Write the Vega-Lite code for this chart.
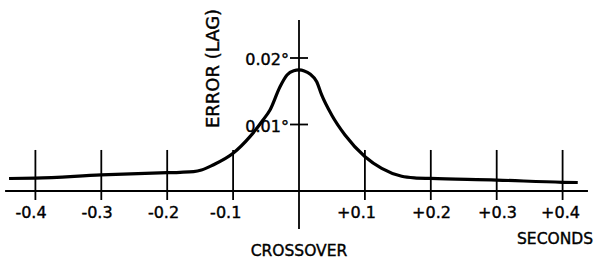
{
  "$schema": "https://vega.github.io/schema/vega-lite/v6.json",
  "width": 595,
  "height": 259,
  "padding": 0,
  "autosize": {"type": "none"},
  "background": "white",
  "config": {"view": {"stroke": null}},
  "datasets": {
    "curve": [
      {"t": -0.44, "err": 0.00188},
      {"t": -0.4, "err": 0.00195},
      {"t": -0.3, "err": 0.00241},
      {"t": -0.2, "err": 0.00275},
      {"t": -0.1806, "err": 0.00281},
      {"t": -0.16, "err": 0.00292},
      {"t": -0.148, "err": 0.00316},
      {"t": -0.1305, "err": 0.00391},
      {"t": -0.1, "err": 0.00567},
      {"t": -0.0744, "err": 0.00817},
      {"t": -0.0546, "err": 0.01068},
      {"t": -0.044, "err": 0.01218},
      {"t": -0.0288, "err": 0.01568},
      {"t": -0.0182, "err": 0.01744},
      {"t": -0.008, "err": 0.01808},
      {"t": 0.0, "err": 0.0182},
      {"t": 0.008, "err": 0.01806},
      {"t": 0.0167, "err": 0.0176},
      {"t": 0.0269, "err": 0.01644},
      {"t": 0.0344, "err": 0.01444},
      {"t": 0.0496, "err": 0.01143},
      {"t": 0.0698, "err": 0.00842},
      {"t": 0.1002, "err": 0.00516},
      {"t": 0.1255, "err": 0.00341},
      {"t": 0.1558, "err": 0.00222},
      {"t": 0.175, "err": 0.00198},
      {"t": 0.2, "err": 0.00189},
      {"t": 0.3, "err": 0.00165},
      {"t": 0.4, "err": 0.00131},
      {"t": 0.423, "err": 0.00128}
    ],
    "xticks": [
      {"t": -0.4, "lo": -0.00135, "hi": 0.00617},
      {"t": -0.3, "lo": -0.00135, "hi": 0.00617},
      {"t": -0.2, "lo": -0.00135, "hi": 0.00617},
      {"t": -0.1, "lo": -0.00135, "hi": 0.00617},
      {"t": 0.1, "lo": -0.00135, "hi": 0.00617},
      {"t": 0.2, "lo": -0.00135, "hi": 0.00617},
      {"t": 0.3, "lo": -0.00135, "hi": 0.00617},
      {"t": 0.4, "lo": -0.00135, "hi": 0.00617},
      {"t": 0.0, "lo": -0.00571, "hi": 0.02571}
    ],
    "hlines": [
      {"t1": -0.446, "t2": 0.4385, "err": 0.0},
      {"t1": -0.0137, "t2": 0.0137, "err": 0.01},
      {"t1": -0.0137, "t2": 0.0137, "err": 0.02}
    ],
    "xlabels": [
      {"t": -0.4067, "err": -0.0041, "label": "-0.4"},
      {"t": -0.3065, "err": -0.0041, "label": "-0.3"},
      {"t": -0.2056, "err": -0.0041, "label": "-0.2"},
      {"t": -0.1112, "err": -0.0041, "label": "-0.1"},
      {"t": 0.0873, "err": -0.0041, "label": "+0.1"},
      {"t": 0.2011, "err": -0.0041, "label": "+0.2"},
      {"t": 0.3012, "err": -0.0041, "label": "+0.3"},
      {"t": 0.3968, "err": -0.0041, "label": "+0.4"}
    ],
    "ylabels": [
      {"t": -0.0152, "err": 0.01895, "label": "0.02°"},
      {"t": -0.0152, "err": 0.00892, "label": "0.01°"}
    ],
    "titles": [
      {"t": 0.0, "err": -0.00985, "label": "CROSSOVER"},
      {"t": 0.3885, "err": -0.00802, "label": "SECONDS"}
    ],
    "ytitle": [
      {"t": -0.1297, "err": 0.01842, "label": "ERROR (LAG)"}
    ]
  },
  "layer": [
    {
      "data": {"name": "hlines"},
      "mark": {"type": "rule", "color": "black", "strokeWidth": 1.8},
      "encoding": {
        "x": {"field": "t1", "type": "quantitative", "scale": {"domain": [-0.45372, 0.44917], "nice": false, "zero": false}, "axis": null},
        "x2": {"field": "t2"},
        "y": {"field": "err", "type": "quantitative", "scale": {"domain": [-0.010226, 0.028722], "nice": false, "zero": false}, "axis": null}
      }
    },
    {
      "data": {"name": "xticks"},
      "mark": {"type": "rule", "color": "black", "strokeWidth": 1.8},
      "encoding": {
        "x": {"field": "t", "type": "quantitative", "scale": {"domain": [-0.45372, 0.44917], "nice": false, "zero": false}, "axis": null},
        "y": {"field": "lo", "type": "quantitative", "scale": {"domain": [-0.010226, 0.028722], "nice": false, "zero": false}, "axis": null},
        "y2": {"field": "hi"}
      }
    },
    {
      "data": {"name": "curve"},
      "mark": {"type": "line", "color": "black", "strokeWidth": 3.2, "interpolate": "monotone"},
      "encoding": {
        "x": {"field": "t", "type": "quantitative", "scale": {"domain": [-0.45372, 0.44917], "nice": false, "zero": false}, "axis": null},
        "y": {"field": "err", "type": "quantitative", "scale": {"domain": [-0.010226, 0.028722], "nice": false, "zero": false}, "axis": null}
      }
    },
    {
      "data": {"name": "xlabels"},
      "mark": {"type": "text", "font": "DejaVu Sans", "fontSize": 16, "color": "black", "stroke": "black", "strokeWidth": 0.4, "align": "center", "baseline": "alphabetic"},
      "encoding": {
        "x": {"field": "t", "type": "quantitative"},
        "y": {"field": "err", "type": "quantitative"},
        "text": {"field": "label"}
      }
    },
    {
      "data": {"name": "ylabels"},
      "mark": {"type": "text", "font": "DejaVu Sans", "fontSize": 16, "color": "black", "stroke": "black", "strokeWidth": 0.4, "align": "right", "baseline": "alphabetic"},
      "encoding": {
        "x": {"field": "t", "type": "quantitative"},
        "y": {"field": "err", "type": "quantitative"},
        "text": {"field": "label"}
      }
    },
    {
      "data": {"name": "titles"},
      "mark": {"type": "text", "font": "DejaVu Sans", "fontSize": 15.5, "color": "black", "stroke": "black", "strokeWidth": 0.4, "align": "center", "baseline": "alphabetic"},
      "encoding": {
        "x": {"field": "t", "type": "quantitative"},
        "y": {"field": "err", "type": "quantitative"},
        "text": {"field": "label"}
      }
    },
    {
      "data": {"name": "ytitle"},
      "mark": {"type": "text", "font": "DejaVu Sans", "fontSize": 18, "color": "black", "stroke": "black", "strokeWidth": 0.4, "align": "center", "baseline": "middle", "angle": 270},
      "encoding": {
        "x": {"field": "t", "type": "quantitative"},
        "y": {"field": "err", "type": "quantitative"},
        "text": {"field": "label"}
      }
    }
  ]
}
